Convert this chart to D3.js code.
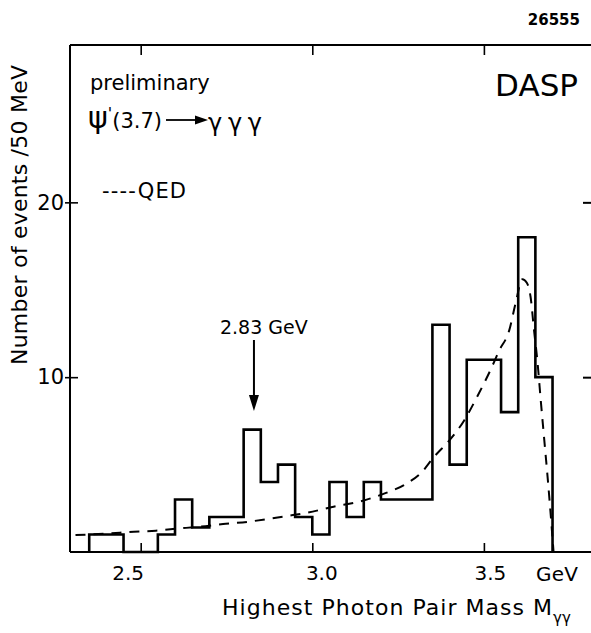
<!DOCTYPE html>
<html><head><meta charset="utf-8">
<script src="https://cdn.jsdelivr.net/npm/d3@7"></script>
<style>
html,body{margin:0;padding:0;background:#fff;}
svg{display:block;}
text{font-family:"DejaVu Sans",sans-serif;fill:#000;}
</style></head>
<body><svg id="c" width="591" height="633"></svg>
<script>
// ---- data ----
const binLow  = [2.35,2.45,2.55,2.60,2.65,2.70,2.80,2.85,2.90,2.95,3.00,3.05,3.10,3.15,3.20,3.35,3.40,3.45,3.55,3.60,3.65];
const binHigh = [2.45,2.55,2.60,2.65,2.70,2.80,2.85,2.90,2.95,3.00,3.05,3.10,3.15,3.20,3.35,3.40,3.45,3.55,3.60,3.65,3.70];
const counts  = [1,0,1,3,1.4,2,7,4,5,2,1,4,2,4,3,13,5,11,8,18,10];
const qedMass = [2.31,2.40,2.48,2.544,2.602,2.673,2.74,2.813,2.883,2.93,2.986,3.062,3.135,3.211,3.267,3.32,3.355,3.40,3.443,3.48,3.519,3.545,3.574,3.592,3.612,3.625,3.636,3.646,3.656,3.666,3.676,3.686,3.696,3.703];
const qedVal  = [0.97,1.05,1.16,1.22,1.33,1.45,1.6,1.73,1.93,2.07,2.25,2.59,2.87,3.35,3.83,4.59,5.45,6.4,7.54,8.87,10.4,11.54,12.69,14.2,15.6,15.4,14.6,12.7,10.9,8.6,6.4,4.2,1.8,0];
const xTicks = [2.5,3.0,3.5];
const xTickShift = [-13,9,6];
const yTicks = [10,20];

const svg = d3.select("#c");
const L=70, R=592, T=45, B=552;
const x = d3.scaleLinear().domain([2.294,3.815]).range([L,R]);
const y = d3.scaleLinear().domain([0,29]).range([B,T]);

// frame lines
svg.append("line").attr("x1",L).attr("x2",R).attr("y1",T).attr("y2",T).attr("stroke","#000").attr("stroke-width",2);
svg.append("line").attr("x1",L).attr("x2",L).attr("y1",T).attr("y2",B).attr("stroke","#000").attr("stroke-width",2);
svg.append("line").attr("x1",L).attr("x2",R).attr("y1",B).attr("y2",B).attr("stroke","#000").attr("stroke-width",2);

// bottom axis
const gx = svg.append("g").attr("transform",`translate(0,${B})`)
  .call(d3.axisBottom(x).tickValues(xTicks).tickFormat(d3.format(".1f")).tickSize(-9).tickPadding(14));
gx.select(".domain").remove();
gx.selectAll("line").attr("stroke","#000").attr("stroke-width",1.6);
gx.selectAll("text").style("font-size","20px").style("font-family","DejaVu Sans")
  .attr("dx",(d,i)=>xTickShift[i]);
svg.append("text").attr("x",x(3.5)+52).attr("y",B+29).style("font-size","20px").attr("textLength",42).text("GeV");

// top axis ticks
const gt = svg.append("g").attr("transform",`translate(0,${T})`)
  .call(d3.axisTop(x).tickValues(xTicks).tickFormat("").tickSize(-10));
gt.select(".domain").remove();
gt.selectAll("line").attr("stroke","#000").attr("stroke-width",1.6);

// left axis
const gy = svg.append("g").attr("transform",`translate(${L},0)`)
  .call(d3.axisLeft(y).tickValues(yTicks).tickFormat(d3.format("d")).tickSize(5).tickPadding(1));
gy.select(".domain").remove();
gy.selectAll("line").attr("stroke","#000").attr("stroke-width",1.6);
gy.selectAll("text").style("font-size","21px").style("font-family","DejaVu Sans");
const gy2 = svg.append("g").attr("transform",`translate(${L},0)`)
  .call(d3.axisRight(y).tickValues(yTicks).tickFormat("").tickSize(8));
gy2.select(".domain").remove();
gy2.selectAll("line").attr("stroke","#000").attr("stroke-width",1.6);

// right axis ticks
const gr = svg.append("g").attr("transform",`translate(${R},0)`)
  .call(d3.axisLeft(y).tickValues(yTicks).tickFormat("").tickSize(9));
gr.select(".domain").remove();
gr.selectAll("line").attr("stroke","#000").attr("stroke-width",2);

// histogram
let pts = [[x(binLow[0]), y(0)]];
counts.forEach((c,i)=>{ pts.push([x(binLow[i]), y(c)]); pts.push([x(binHigh[i]), y(c)]); });
pts.push([x(binHigh[binHigh.length-1]), y(0)]);
svg.append("path").attr("d", d3.line()(pts)).attr("fill","none").attr("stroke","#000").attr("stroke-width",2.6).attr("stroke-linejoin","miter");

// QED curve
const qed = qedMass.map((m,i)=>[x(m), y(qedVal[i])]);
svg.append("path").attr("d", d3.line().curve(d3.curveMonotoneX)(qed))
  .attr("fill","none").attr("stroke","#000").attr("stroke-width",2).attr("stroke-dasharray","10,8");

// arrow 2.83 GeV
const ax = x(2.83);
svg.append("line").attr("x1",ax).attr("x2",ax).attr("y1",340).attr("y2",398).attr("stroke","#000").attr("stroke-width",2);
svg.append("path").attr("d",`M${ax-5},395L${ax+5},395L${ax},411Z`).attr("fill","#000");
svg.append("text").attr("x",ax-34).attr("y",334).style("font-size","19px").text("2.83 GeV");

// annotations
svg.append("text").attr("x",90).attr("y",90).style("font-size","21px").text("preliminary");
const t2 = svg.append("text").attr("x",88).attr("y",128).style("font-size","21px");
t2.append("tspan").style("font-size","30px").text("ψ");
t2.append("tspan").attr("dy",-9).style("font-size","16px").text("'");
t2.append("tspan").attr("dy",9).text("(3.7)");
svg.append("line").attr("x1",166).attr("x2",198).attr("y1",120).attr("y2",120).attr("stroke","#000").attr("stroke-width",1.8);
svg.append("path").attr("d","M195,115.5L208,120L195,124.5Z").attr("fill","#000");
svg.append("text").attr("x",208).attr("y",131).style("font-size","24px").attr("textLength",54).text("γγγ");
svg.append("text").attr("x",102).attr("y",198).style("font-size","21px").attr("textLength",84).text("----QED");
svg.append("text").attr("x",578).attr("y",96).attr("text-anchor","end").style("font-size","31px").text("DASP");
svg.append("text").attr("x",580).attr("y",25).attr("text-anchor","end").style("font-size","15px").style("font-weight","bold").text("26555");

// axis titles
svg.append("text").attr("transform","translate(27,215) rotate(-90)").attr("text-anchor","middle")
  .style("font-size","22px").attr("textLength",300).text("Number of events /50 MeV");
const xt = svg.append("text").attr("x",222).attr("y",615).style("font-size","22px");
xt.append("tspan").attr("textLength",330).text("Highest Photon Pair Mass M");
xt.append("tspan").attr("dy",8).style("font-size","15px").text("γγ");
</script></body></html>
